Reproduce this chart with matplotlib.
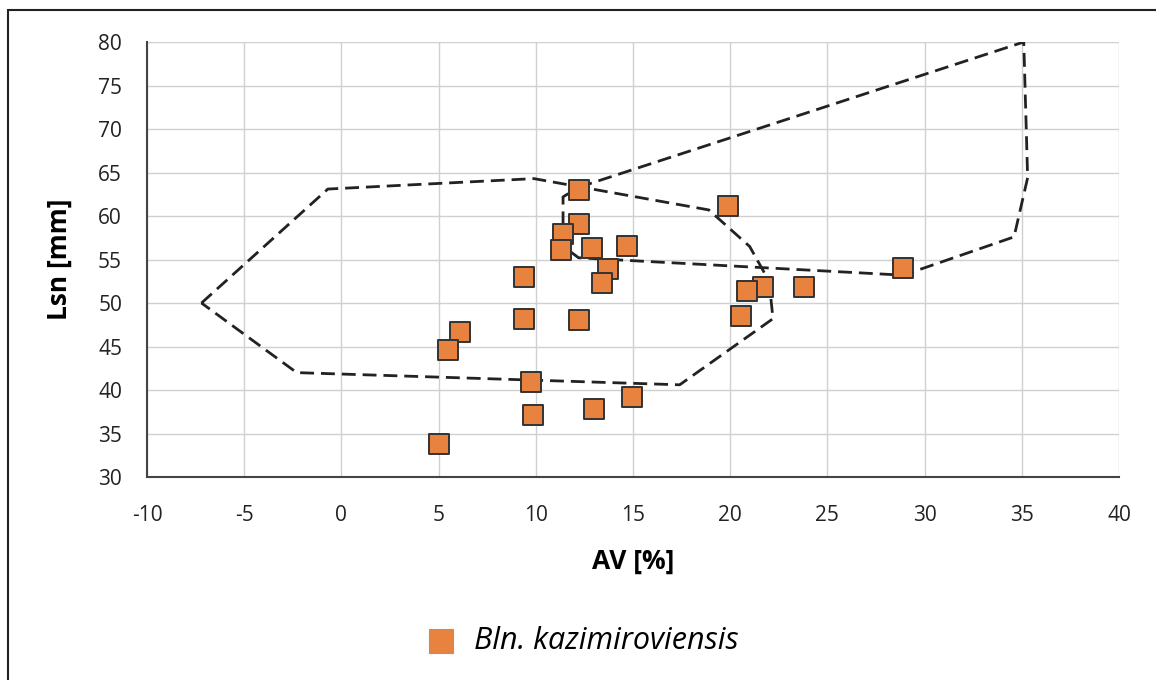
import matplotlib.pyplot as plt
from matplotlib.patches import Rectangle

plt.rcParams['font.family'] = ['Open Sans', 'DejaVu Sans']
plt.rcParams['axes.unicode_minus'] = False

# AV [%] and Lsn [mm] for each specimen
av = [12.2, 12.2, 11.4, 11.3, 12.9, 14.7, 13.7, 13.4, 9.4, 9.4, 12.2, 6.1,
      5.5, 9.75, 9.85, 13.0, 14.95, 5.0, 19.9, 21.7, 20.85, 20.55, 23.8, 28.9]
lsn = [63.0, 59.1, 57.9, 56.1, 56.3, 56.5, 53.9, 52.3, 53.0, 48.2, 48.0, 46.7,
       44.6, 40.9, 37.1, 37.8, 39.2, 33.8, 61.2, 51.8, 51.4, 48.5, 51.8, 54.0]

# outlines of the two comparison fields
field1_x = [-7.2, -0.7, 9.9, 18.9, 21.0, 22.0, 22.2, 17.4, -2.3, -7.2]
field1_y = [50.0, 63.1, 64.3, 60.7, 56.5, 52.5, 48.2, 40.6, 42.0, 50.0]
field2_x = [12.2, 35.1, 35.3, 34.6, 28.9, 12.2, 11.6, 11.4, 11.4, 12.2]
field2_y = [63.3, 80.0, 64.4, 57.6, 53.2, 55.2, 56.2, 58.0, 62.2, 63.3]

fig = plt.figure(figsize=(11.56, 6.8), dpi=100)
ax = fig.add_axes([0.1272, 0.2985, 0.8408, 0.6397])

for fx, fy in [(field1_x, field1_y), (field2_x, field2_y)]:
    ax.plot(fx, fy, color='#222222', lw=2.0, ls=(0, (5, 2.5)), zorder=3)
ax.scatter(av, lsn, marker='s', s=200, color='#E8823F', edgecolor='#333333',
           linewidth=1.4, zorder=4, label='Bln. kazimiroviensis')

ax.set_xlim(-10, 40)
ax.set_ylim(30, 80)
ax.set_xticks(range(-10, 41, 5))
ax.set_yticks(range(30, 81, 5))
ax.grid(True, color='#d0d0d0', lw=1)
ax.set_axisbelow(True)
ax.tick_params(length=0, labelsize=15, colors='#222222')
ax.tick_params(axis='x', pad=20)
ax.tick_params(axis='y', pad=18)
for s in ['top', 'right']:
    ax.spines[s].set_visible(False)
for s in ['left', 'bottom']:
    ax.spines[s].set_color('#444444')
    ax.spines[s].set_linewidth(1.5)

ax.set_xlabel('AV [%]', fontsize=19, fontweight='bold', labelpad=16)
ax.set_ylabel('Lsn [mm]', fontsize=19, fontweight='bold', labelpad=18)

leg = fig.legend(loc='center', bbox_to_anchor=(0.497, 0.058), frameon=False,
                 prop={'style': 'italic', 'size': 22}, handletextpad=0.1,
                 markerscale=1.2)
for h in leg.legend_handles:
    h.set_edgecolor('#999999')
    h.set_linewidth(0.8)

fig.patches.append(Rectangle((8 / 1156, -0.1), 1.2, 1 - 10 / 680 + 0.1,
                             transform=fig.transFigure, fill=False,
                             edgecolor='#222222', lw=1.5))

fig.savefig('out.png', dpi=100)
